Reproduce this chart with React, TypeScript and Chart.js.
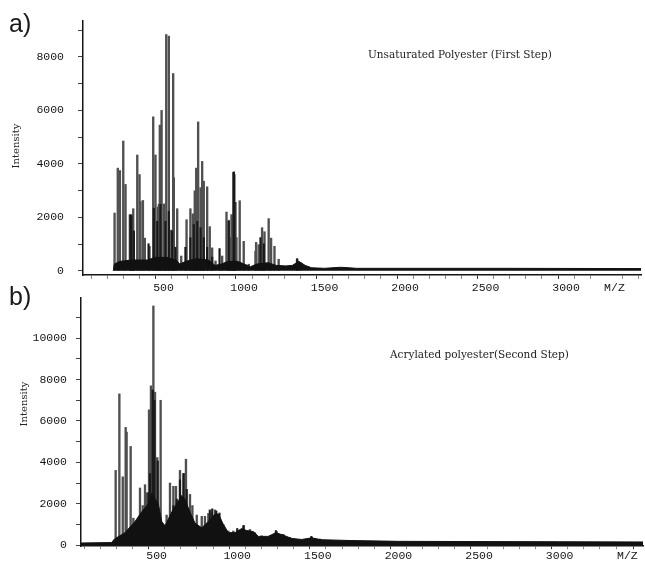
import React, { useEffect, useRef } from 'react';
import { Chart, registerables } from 'chart.js';

Chart.register(...registerables);

// ---------- Panel a) Unsaturated Polyester (First Step) ----------
// main (grey) peaks
const peaksA_mz = [196, 216, 229, 250, 264, 291, 306, 312, 337, 351, 357, 372, 384, 413, 436, 450, 465, 471, 477, 488, 502, 517, 533, 548, 560, 564, 585, 610, 643, 667, 682, 694, 703, 715, 730, 740, 750, 771, 787, 802, 823, 864, 891, 905, 918, 922, 947, 953, 973, 998, 1029, 1071, 1075, 1091, 1112, 1127, 1153, 1168, 1189, 1215, 1329, 1350];
const peaksA_int = [2160, 3840, 3750, 4855, 3230, 2090, 2090, 2320, 4330, 3600, 2590, 2630, 1220, 915, 5760, 4330, 2380, 2490, 5450, 6000, 2500, 8840, 8780, 1520, 7380, 3480, 2320, 550, 1910, 2320, 2130, 2990, 3840, 5570, 3110, 4090, 3350, 3140, 1650, 855, 366, 550, 2195, 1890, 1240, 2100, 2560, 1240, 2620, 1100, 245, 730, 1060, 975, 1610, 1460, 1950, 1220, 915, 430, 430, 305];
// dense (dark) lines
const denseA_mz = [295, 300, 316, 407, 440, 461, 481, 512, 533, 554, 574, 636, 667, 688, 709, 730, 750, 771, 802, 848, 905, 934, 937, 940, 1102, 1123, 1330];
const denseA_int = [2100, 2050, 1490, 1010, 2340, 1850, 2480, 1850, 2220, 1490, 880, 880, 1240, 1730, 1850, 1610, 1240, 880, 510, 830, 1850, 3680, 3700, 3600, 1240, 1010, 450];
// dark baseline mass
const envA_mz = [188, 195, 230, 300, 400, 450, 520, 580, 600, 640, 700, 780, 820, 860, 900, 960, 1000, 1040, 1080, 1150, 1200, 1260, 1300, 1340, 1380, 1420, 1500, 1600, 1700, 2600, 3465];
const envA_int = [0, 250, 350, 400, 400, 500, 500, 400, 250, 350, 450, 400, 200, 250, 350, 350, 250, 150, 250, 300, 200, 180, 200, 350, 200, 110, 90, 130, 90, 90, 80];
const yTicksA = [0, 500, 1000, 1500, 2000, 2500, 3000, 3500, 4000, 4500, 5000, 5500, 6000, 6500, 7000, 7500, 8000, 8500, 9000];
const yLabelsA = [0, 2000, 4000, 6000, 8000];

// ---------- Panel b) Acrylated polyester (Second Step) ----------
const peaksB_mz = [246, 269, 290, 308, 314, 339, 356, 372, 397, 414, 428, 438, 453, 465, 480, 490, 504, 525, 542, 562, 583, 604, 620, 645, 670, 682, 707, 722, 749, 780, 800, 821, 842, 862, 893, 914, 945, 976, 1038, 1079, 1110, 1152, 1203, 1245, 1286, 1327, 1390, 1462, 1514];
const peaksB_int = [3610, 7310, 3300, 5690, 5460, 4770, 1300, 1140, 2760, 1910, 2920, 2530, 6540, 7700, 11560, 7390, 4230, 7000, 990, 1450, 3000, 2840, 2840, 3610, 3460, 4150, 2450, 1910, 1450, 1390, 1390, 1530, 1600, 1700, 1300, 990, 680, 680, 910, 755, 600, 450, 450, 650, 520, 370, 245, 370, 290];
const denseB_mz = [449, 459, 476, 486, 507, 604, 625, 645, 666, 687, 830, 845, 870, 890, 1000, 1040, 1240, 1460];
const denseB_int = [2530, 3460, 7500, 7000, 4070, 1910, 2220, 3150, 3460, 2690, 1700, 1750, 1650, 1550, 800, 950, 700, 420];
const envB_mz = [31, 220, 240, 304, 366, 407, 449, 470, 510, 532, 552, 594, 625, 656, 676, 707, 738, 780, 821, 862, 883, 914, 945, 986, 1028, 1059, 1100, 1131, 1193, 1239, 1286, 1338, 1400, 1462, 1520, 1700, 2000, 2500, 3000, 3517];
const envB_int = [100, 120, 300, 600, 1140, 1600, 2000, 2500, 2000, 1140, 925, 1600, 2000, 2400, 2200, 1600, 1065, 835, 1140, 1500, 1500, 1000, 600, 600, 800, 700, 650, 420, 420, 600, 480, 320, 270, 350, 260, 220, 180, 170, 160, 150];
const yTicksB = [0, 1000, 2000, 3000, 4000, 5000, 6000, 7000, 8000, 9000, 10000, 11000];
const yLabelsB = [0, 2000, 4000, 6000, 8000, 10000];

const xLabels = [500, 1000, 1500, 2000, 2500, 3000];
const xMinorStep = 100;

const TICK_FONT = { family: 'Liberation Mono', size: 11.5 };
const INK = '#151515';

type PanelCfg = {
  peakMz: number[]; peakInt: number[]; denseMz: number[]; denseInt: number[];
  envMz: number[]; envInt: number[];
  xmin: number; xmax: number; ymin: number; ymax: number;
  yTicks: number[]; yLabels: number[]; mzPos: number;
  padTop: number; padRight: number; xAxisH: number; yAxisW: number;
  yLabelPad: number; xLabelPad: number; xTickLen: number;
};

function buildConfig(c: PanelCfg): any {
  const xt: number[] = [];
  for (let v = Math.ceil(c.xmin / xMinorStep) * xMinorStep; v <= c.xmax; v += xMinorStep) {
    if (v !== c.mzPos) xt.push(v);
  }
  xt.push(c.mzPos);
  xt.sort((a, b) => a - b);
  return {
    type: 'bar',
    data: {
      datasets: [
        {
          type: 'line',
          data: c.envMz.map((x, i) => ({ x, y: c.envInt[i] })),
          borderColor: '#111',
          backgroundColor: '#111',
          borderWidth: 1,
          pointRadius: 0,
          tension: 0,
          fill: 'origin',
          order: 0,
        },
        {
          type: 'bar',
          data: c.denseMz.map((x, i) => ({ x, y: c.denseInt[i] })),
          backgroundColor: '#1a1a1a',
          borderWidth: 0,
          barThickness: 1.5,
          grouped: false,
          order: 1,
        },
        {
          type: 'bar',
          data: c.peakMz.map((x, i) => ({ x, y: c.peakInt[i] })),
          backgroundColor: '#505050',
          borderWidth: 0,
          barThickness: 1.7,
          grouped: false,
          order: 2,
        },
      ],
    },
    options: {
      animation: false,
      responsive: false,
      maintainAspectRatio: false,
      layout: { padding: { top: c.padTop, right: c.padRight, left: 0, bottom: 0 } },
      plugins: { legend: { display: false }, tooltip: { enabled: false } },
      scales: {
        x: {
          type: 'linear',
          min: c.xmin,
          max: c.xmax,
          offset: false,
          afterBuildTicks: (axis: any) => { axis.ticks = xt.map((v) => ({ value: v })); },
          afterFit: (s: any) => { s.height = c.xAxisH; },
          grid: {
            drawOnChartArea: false,
            tickLength: c.xTickLen,
            tickColor: (ctx: any) => (ctx.tick && ctx.tick.value === c.mzPos ? 'rgba(0,0,0,0)' : (ctx.tick && ctx.tick.value % 500 === 0 ? '#333' : '#888')),
          },
          border: { color: INK, width: 1.5 },
          ticks: {
            autoSkip: false,
            maxRotation: 0,
            minRotation: 0,
            padding: c.xLabelPad,
            color: INK,
            font: TICK_FONT,
            callback: (v: number) => (v === c.mzPos ? 'M/Z' : xLabels.includes(v) ? String(v) : ''),
          },
        },
        y: {
          min: c.ymin,
          max: c.ymax,
          afterBuildTicks: (axis: any) => { axis.ticks = c.yTicks.map((v) => ({ value: v })); },
          afterFit: (s: any) => { s.width = c.yAxisW; },
          grid: { drawOnChartArea: false, tickLength: 5, tickColor: '#444' },
          border: { color: INK, width: 1.5 },
          ticks: {
            padding: c.yLabelPad,
            color: INK,
            font: TICK_FONT,
            callback: (v: number) => (c.yLabels.includes(v) ? String(v) : ''),
          },
        },
      },
    },
  };
}

function Panel(props: { cfg: PanelCfg; top: number; height: number }) {
  const ref = useRef<HTMLCanvasElement>(null);
  useEffect(() => {
    if (!ref.current) return;
    const chart = new Chart(ref.current, buildConfig(props.cfg));
    return () => chart.destroy();
  }, []);
  return (
    <canvas
      ref={ref}
      width={645}
      height={props.height}
      style={{ position: 'absolute', left: 0, top: props.top, width: 645, height: props.height }}
    />
  );
}

const cfgA: PanelCfg = {
  peakMz: peaksA_mz, peakInt: peaksA_int, denseMz: denseA_mz, denseInt: denseA_int,
  envMz: envA_mz, envInt: envA_int,
  xmin: 0, xmax: 3465, ymin: -160, ymax: 9350,
  yTicks: yTicksA, yLabels: yLabelsA, mzPos: 3300,
  padTop: 15, padRight: 4, xAxisH: 23, yAxisW: 83,
  yLabelPad: 14, xLabelPad: 2, xTickLen: 4,
};

const cfgB: PanelCfg = {
  peakMz: peaksB_mz, peakInt: peaksB_int, denseMz: denseB_mz, denseInt: denseB_int,
  envMz: envB_mz, envInt: envB_int,
  xmin: 31, xmax: 3517, ymin: -50, ymax: 11950,
  yTicks: yTicksB, yLabels: yLabelsB, mzPos: 3420,
  padTop: 8, padRight: 2, xAxisH: 13, yAxisW: 81,
  yLabelPad: 9, xLabelPad: 0, xTickLen: 3,
};

const serif = "'DejaVu Serif', serif";

export default function App() {
  return (
    <div style={{ position: 'fixed', left: 0, top: 0, width: 645, height: 562, background: '#fff', overflow: 'hidden' }}>
      <Panel cfg={cfgA} top={0} height={298} />
      <Panel cfg={cfgB} top={282} height={280} />
      <div style={{ position: 'absolute', left: 9, top: 11, font: "25px 'Liberation Sans', sans-serif", lineHeight: 1, color: '#1a1a1a' }}>a)</div>
      <div style={{ position: 'absolute', left: 9, top: 284, font: "25px 'Liberation Sans', sans-serif", lineHeight: 1, color: '#1a1a1a' }}>b)</div>
      <div style={{ position: 'absolute', left: 368, top: 49, font: `10.5px ${serif}`, lineHeight: 1, color: '#222', whiteSpace: 'nowrap' }}>Unsaturated Polyester (First Step)</div>
      <div style={{ position: 'absolute', left: 390, top: 349, font: `10.5px ${serif}`, lineHeight: 1, color: '#222', whiteSpace: 'nowrap' }}>Acrylated polyester(Second Step)</div>
      <div style={{ position: 'absolute', left: 16, top: 146, transform: 'translate(-50%,-50%) rotate(-90deg)', font: `10px ${serif}`, lineHeight: 1, color: '#222', whiteSpace: 'nowrap' }}>Intensity</div>
      <div style={{ position: 'absolute', left: 24, top: 404, transform: 'translate(-50%,-50%) rotate(-90deg)', font: `10px ${serif}`, lineHeight: 1, color: '#222', whiteSpace: 'nowrap' }}>Intensity</div>
    </div>
  );
}
